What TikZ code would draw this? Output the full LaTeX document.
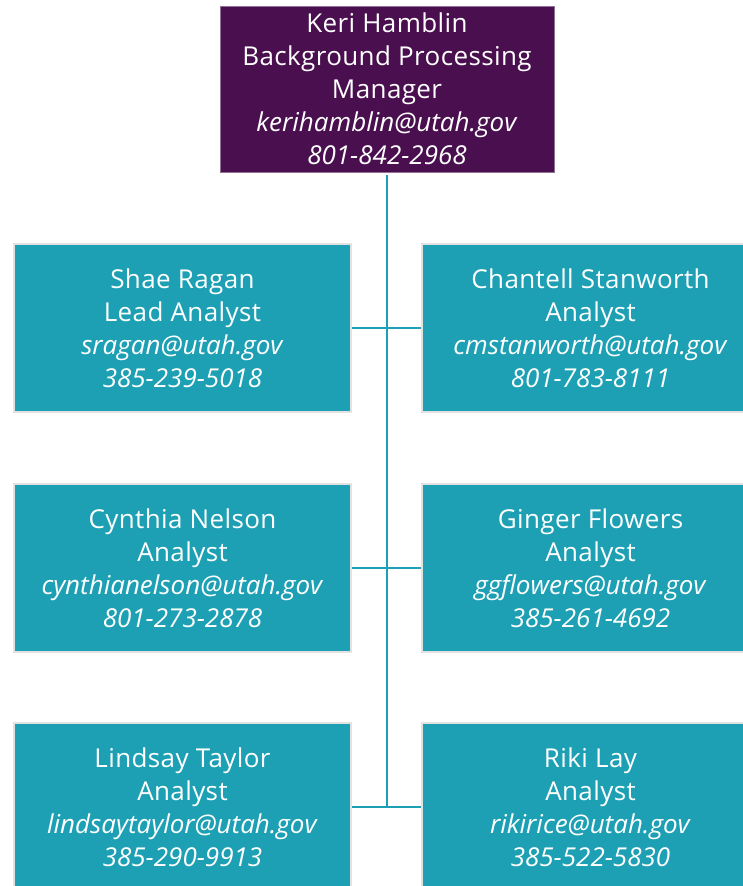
\documentclass[tikz,border=0pt]{standalone}
\usepackage{fontspec}
\setmainfont{Open Sans}[LetterSpace=1.5,ItalicFeatures={LetterSpace=0}]
\definecolor{mgrpurple}{HTML}{4A0F4F}
\definecolor{staffteal}{HTML}{1DA0B4}
\definecolor{boxedge}{HTML}{E2E2E2}
\begin{document}
\begin{tikzpicture}[x=1pt,y=-1pt,
  txt/.style={text=white,align=center,font=\fontsize{26}{33}\selectfont,inner sep=0pt},
  mgrbox/.style={txt,fill=mgrpurple,draw=mgrpurple!60!white,line width=0.8pt,minimum width=334pt,minimum height=166pt},
  staffbox/.style={txt,fill=staffteal,draw=boxedge,line width=2pt,minimum width=337pt,minimum height=168pt},
  link/.style={draw=staffteal,line width=2.5pt}]
\useasboundingbox (0,0) rectangle (743,886);
\clip (0,0) rectangle (743,886);
\fill[white] (0,0) rectangle (743,886);
\node[mgrbox] (keri) at (387,89) {Keri Hamblin\\Background Processing\\Manager\\\textit{kerihamblin@utah.gov}\\\textit{801-842-2968}};
\node[staffbox] (shae) at (182.5,328) {Shae Ragan\\Lead Analyst\\\textit{sragan@utah.gov}\\\textit{385-239-5018}};
\node[staffbox] (chantell) at (590.5,328) {Chantell Stanworth\\Analyst\\\textit{cmstanworth@utah.gov}\\\textit{801-783-8111}};
\node[staffbox] (cynthia) at (182.5,568) {Cynthia Nelson\\Analyst\\\textit{cynthianelson@utah.gov}\\\textit{801-273-2878}};
\node[staffbox] (ginger) at (590.5,568) {Ginger Flowers\\Analyst\\\textit{ggflowers@utah.gov}\\\textit{385-261-4692}};
\node[staffbox] (lindsay) at (182.5,807) {Lindsay Taylor\\Analyst\\\textit{lindsaytaylor@utah.gov}\\\textit{385-290-9913}};
\node[staffbox] (riki) at (590.5,807) {Riki Lay\\Analyst\\\textit{rikirice@utah.gov}\\\textit{385-522-5830}};
\coordinate (spineend) at (387,807);
\draw[link] ([yshift=-3pt]keri.south) -- (spineend);
\draw[link] (shae.east) -- (chantell.west);
\draw[link] (cynthia.east) -- (ginger.west);
\draw[link] (lindsay.east) -- (riki.west);
\end{tikzpicture}
\end{document}
